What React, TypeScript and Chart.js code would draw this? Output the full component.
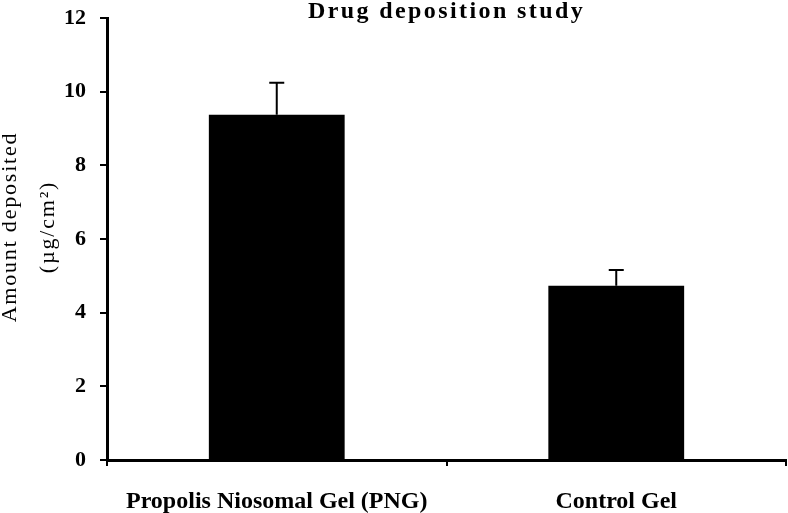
import React, { useEffect, useRef } from "react";
import { Chart, registerables } from "chart.js";

Chart.register(...registerables);

const categories = ["Propolis Niosomal Gel (PNG)", "Control Gel"];
const amounts = [9.37, 4.73];
const errors = [0.87, 0.43];
const titleText = "Drug deposition study";
const yTitleLines = ["Amount deposited", "(µg/cm²)"];
const yMin = 0;
const yMax = 12;
const yStep = 2;

const SERIF = "'Liberation Serif', 'Times New Roman', serif";

const errorBarPlugin = {
  id: "errorBars",
  afterDatasetsDraw(chart: any) {
    const ctx = chart.ctx;
    const meta = chart.getDatasetMeta(0);
    const yScale = chart.scales.y;
    ctx.save();
    ctx.strokeStyle = "#000";
    ctx.lineWidth = 2;
    meta.data.forEach((bar: any, i: number) => {
      const x = bar.x;
      const yTop = yScale.getPixelForValue(amounts[i] + errors[i]);
      const yBase = yScale.getPixelForValue(amounts[i]);
      ctx.beginPath();
      ctx.moveTo(x, yBase);
      ctx.lineTo(x, yTop);
      ctx.moveTo(x - 7.5, yTop);
      ctx.lineTo(x + 7.5, yTop);
      ctx.stroke();
    });
    ctx.restore();
  },
};

const textPlugin = {
  id: "customTexts",
  afterDraw(chart: any) {
    const ctx = chart.ctx;
    const area = chart.chartArea;
    ctx.save();
    ctx.fillStyle = "#000";
    // title
    ctx.font = `bold 24px ${SERIF}`;
    (ctx as any).letterSpacing = "2.4px";
    ctx.textAlign = "center";
    ctx.textBaseline = "alphabetic";
    ctx.fillText(titleText, (area.left + area.right) / 2, 18);
    // y title
    ctx.font = `22px ${SERIF}`;
    (ctx as any).letterSpacing = "1.8px";
    const cy = 227;
    const xs = [16, 54];
    yTitleLines.forEach((line, i) => {
      ctx.save();
      ctx.translate(xs[i], cy);
      ctx.rotate(-Math.PI / 2);
      ctx.textAlign = "center";
      ctx.textBaseline = "alphabetic";
      ctx.fillText(line, 0, 0);
      ctx.restore();
    });
    ctx.restore();
  },
};

export default function App() {
  const ref = useRef<HTMLCanvasElement>(null);
  useEffect(() => {
    if (!ref.current) return;
    const chart = new Chart(ref.current, {
      type: "bar",
      data: {
        labels: categories,
        datasets: [
          {
            data: amounts,
            backgroundColor: "#000",
            borderWidth: 0,
            categoryPercentage: 1,
            barPercentage: 0.4,
          },
        ],
      },
      options: {
        animation: false,
        responsive: false,
        devicePixelRatio: 1,
        layout: { padding: { top: 18, right: 2, left: 0, bottom: 0 } },
        plugins: {
          legend: { display: false },
          title: { display: false },
          tooltip: { enabled: false },
        },
        scales: {
          x: {
            offset: true,
            grid: {
              offset: true,
              drawOnChartArea: false,
              drawTicks: true,
              tickLength: 6,
              color: "#000",
              lineWidth: 2,
            },
            border: { display: true, color: "#000", width: 3 },
            ticks: {
              color: "#000",
              padding: 21,
              maxRotation: 0,
              font: { family: SERIF, size: 24, weight: "bold" },
            },
            afterFit(scale: any) {
              scale.height = 53;
              scale.paddingLeft = 0;
              scale.paddingRight = 0;
            },
          },
          y: {
            min: yMin,
            max: yMax,
            grid: {
              drawOnChartArea: false,
              drawTicks: true,
              tickLength: 7,
              color: "#000",
              lineWidth: 2,
            },
            border: { display: true, color: "#000", width: 3 },
            ticks: {
              stepSize: yStep,
              color: "#000",
              padding: 14,
              font: { family: SERIF, size: 22, weight: "bold" },
            },
            afterFit(scale: any) {
              scale.width = 107;
              scale.paddingTop = 0;
              scale.paddingBottom = 0;
            },
          },
        },
      },
      plugins: [errorBarPlugin, textPlugin],
    } as any);
    return () => chart.destroy();
  }, []);
  return (
    <div style={{ position: "fixed", left: 0, top: 0, width: 788, height: 513, background: "#fff" }}>
      <canvas ref={ref} width={788} height={513} style={{ display: "block" }} />
    </div>
  );
}
